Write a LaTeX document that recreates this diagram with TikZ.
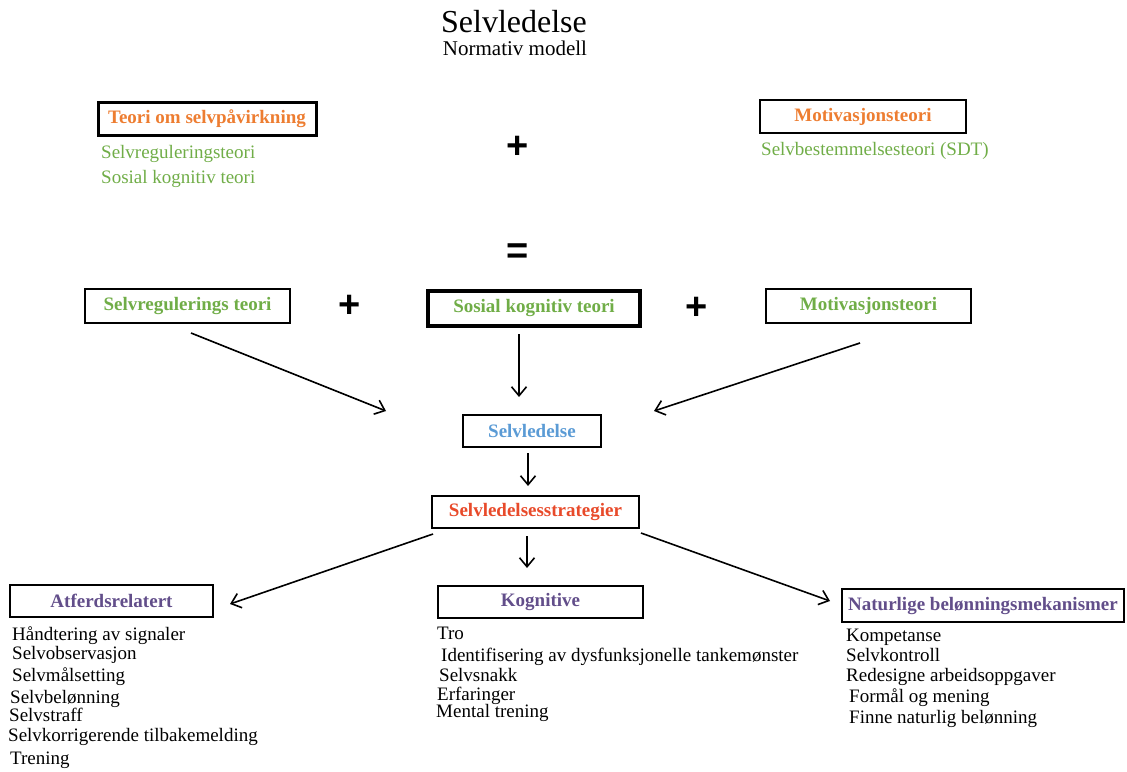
\documentclass[tikz,border=0pt]{standalone}
\usepackage{fontspec}
\setmainfont{Liberation Serif}
\newfontfamily\plusfont{Liberation Sans}
\usetikzlibrary{arrows.meta}
\definecolor{orng}{RGB}{237,125,49}
\definecolor{grn}{RGB}{112,173,71}
\definecolor{blu}{RGB}{91,155,213}
\definecolor{rd}{RGB}{232,74,42}
\definecolor{prp}{RGB}{98,78,138}
\tikzset{
  box/.style={draw, line width=2.6pt, inner sep=0pt, font=\bfseries\fontsize{19}{22}\selectfont},
  item/.style={anchor=west, inner sep=0pt, text height=13pt, text depth=4pt, font=\fontsize{19}{22}\selectfont},
  op/.style={inner sep=0pt, font=\plusfont\bfseries\fontsize{38}{40}\selectfont},
  arr/.style={line width=1.6pt, -{Straight Barb[length=9pt,width=15pt,line width=1.6pt]}}
}
\begin{document}
\begin{tikzpicture}[x=1pt,y=-1pt]
\useasboundingbox (0,0) rectangle (1127,771);
% title
\node[anchor=base, inner sep=0pt, font=\fontsize{32}{34}\selectfont] (title) at (514,32) {Selvledelse};
\node[anchor=base, inner sep=0pt, font=\fontsize{21}{24}\selectfont] (sub) at (515,55) {Normativ modell};
% top row
\node[box, line width=3pt, minimum width=218pt, minimum height=33pt, text=orng] (tsp) at (207,118.5) {Teori om selvpåvirkning};
\node[item, text=grn] (g1) at (101,154) {Selvreguleringsteori};
\node[item, text=grn] (g2) at (101,178.5) {Sosial kognitiv teori};
\node[op] (plus1) at (518,147) {+};
\node[box, minimum width=206pt, minimum height=33pt, text=orng] (mot1) at (863,116.5) {Motivasjonsteori};
\node[item, text=grn] (g3) at (761,151) {Selvbestemmelsesteori (SDT)};
\node[op] (eq) at (518,254) {=};
% middle row
\node[box, minimum width=205pt, minimum height=34pt, text=grn] (srt) at (187.5,306) {Selvregulerings teori};
\node[op] (plus2) at (350,306) {+};
\node[box, line width=3.5pt, minimum width=212pt, minimum height=35pt, text=grn] (skt) at (534,308.5) {Sosial kognitiv teori};
\node[op] (plus3) at (697,308) {+};
\node[box, minimum width=205pt, minimum height=34pt, text=grn] (mot2) at (868.5,306) {Motivasjonsteori};
% centre
\node[box, minimum width=138pt, minimum height=32pt, text=blu] (sl) at (532,431) {Selvledelse};
\node[box, minimum width=207pt, minimum height=32pt, text=rd] (sls) at (535.5,512) {Selvledelsesstrategier};
% bottom row
\node[box, minimum width=203pt, minimum height=32pt, text=prp] (atf) at (111.5,601) {Atferdsrelatert};
\node[box, minimum width=205pt, minimum height=32pt, text=prp] (kog) at (540.5,602) {Kognitive};
\node[box, minimum width=282pt, minimum height=33pt, text=prp] (nat) at (983,605.5) {Naturlige belønningsmekanismer};
% lists
\node[item] (a1) at (12,636) {Håndtering av signaler};
\node[item] (a2) at (12,655) {Selvobservasjon};
\node[item] (a3) at (12,677) {Selvmålsetting};
\node[item] (a4) at (10,699) {Selvbelønning};
\node[item] (a5) at (9,717) {Selvstraff};
\node[item] (a6) at (8,737) {Selvkorrigerende tilbakemelding};
\node[item] (a7) at (10,760) {Trening};
\node[item] (k1) at (437,635) {Tro};
\node[item] (k2) at (441,657) {Identifisering av dysfunksjonelle tankemønster};
\node[item] (k3) at (439,677) {Selvsnakk};
\node[item] (k4) at (437,696) {Erfaringer};
\node[item] (k5) at (436,713) {Mental trening};
\node[item] (n1) at (846,637) {Kompetanse};
\node[item] (n2) at (846,657) {Selvkontroll};
\node[item] (n3) at (846,677) {Redesigne arbeidsoppgaver};
\node[item] (n4) at (849,698) {Formål og mening};
\node[item] (n5) at (849,719) {Finne naturlig belønning};
% connector ends
\coordinate (s1) at (191,333); \coordinate (e1) at (386,411);
\coordinate (s2) at (519,334); \coordinate (e2) at (519,397);
\coordinate (s3) at (860,343); \coordinate (e3) at (654,411);
\coordinate (s4) at (528,453); \coordinate (e4) at (528,486);
\coordinate (s5) at (527,536); \coordinate (e5) at (527,568);
\coordinate (s6) at (433,534); \coordinate (e6) at (230,604);
\coordinate (s7) at (641,533); \coordinate (e7) at (830,601);
\draw[arr] (s1) -- (e1);
\draw[arr] (s2) -- (e2);
\draw[arr] (s3) -- (e3);
\draw[arr] (s4) -- (e4);
\draw[arr] (s5) -- (e5);
\draw[arr] (s6) -- (e6);
\draw[arr] (s7) -- (e7);
\end{tikzpicture}
\end{document}
